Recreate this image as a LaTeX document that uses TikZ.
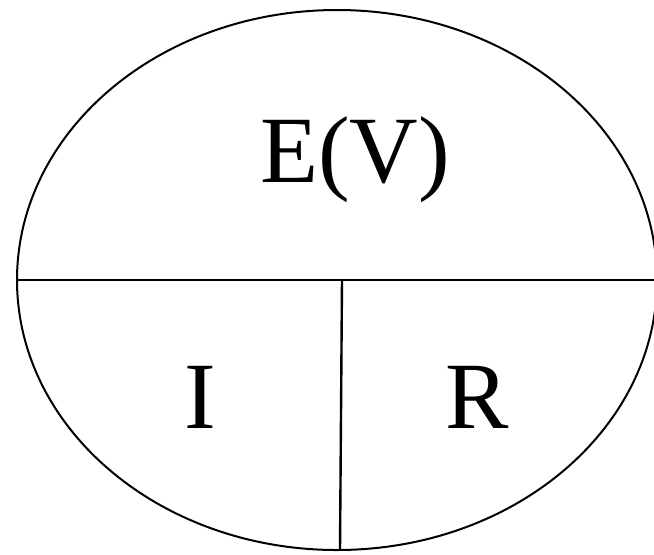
\documentclass[tikz,border=0pt]{standalone}
\usepackage{fontspec}
\setmainfont{Liberation Serif}
\usetikzlibrary{positioning}

\begin{document}
\begin{tikzpicture}[
      x=0.5pt, y=-0.5pt,
      every node/.style={inner sep=0pt},
      part/.style={anchor=base, font=\fontsize{47.5}{52}\selectfont},
      rim/.style={draw=black, line width=1pt},
      split/.style={draw=black, line width=1.2pt}
    ]
    \useasboundingbox (0,0) rectangle (654,554);
    % outer ellipse
    \draw[rim] (337,280) ellipse [x radius=320, y radius=270];
    \coordinate (west) at (17,280);
    \coordinate (east) at (654,280);
    \coordinate (mid)  at (342,280);
    \coordinate (foot) at (340,550);
    \draw[split] (west) -- (east);
    \draw[split] (mid) -- (foot);
    % labels
    \node[part] (ev) at (355,182) {E(V)};
    \node[part] (inc) at (200,428) {I};
    \node[part] (rec) at (477,428) {R};
  \end{tikzpicture}
\end{document}
